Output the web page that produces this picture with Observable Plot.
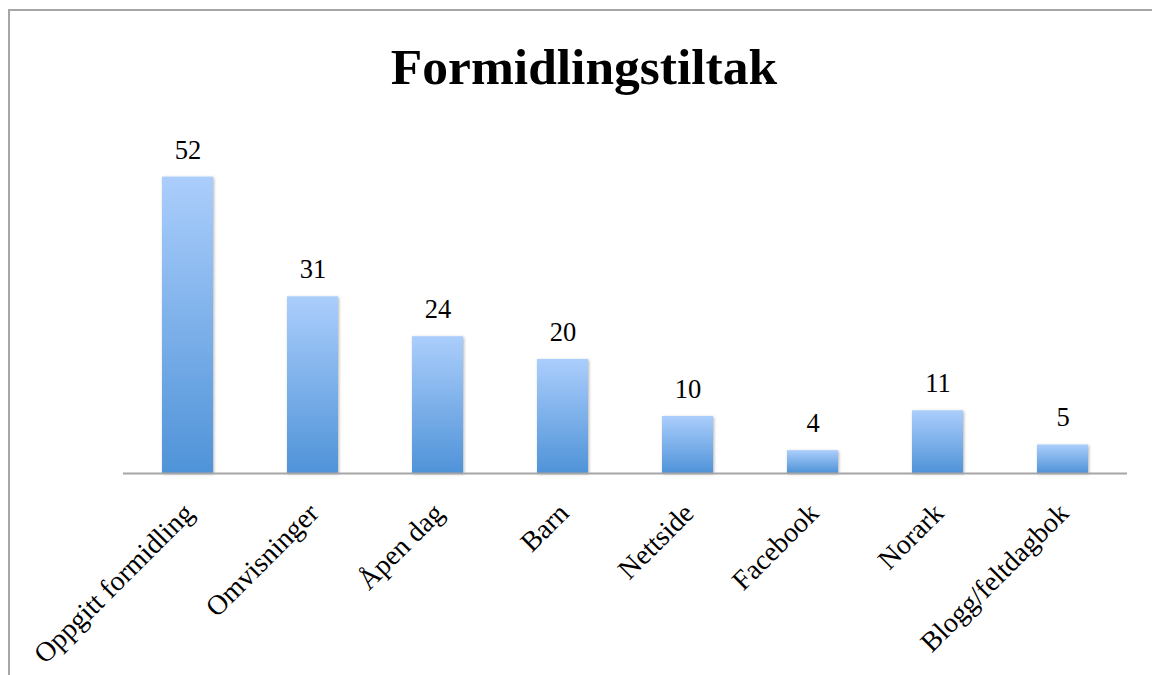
<!DOCTYPE html>
<html>
<head>
<meta charset="utf-8">
<script src="https://cdn.jsdelivr.net/npm/d3@7"></script>
<script src="https://cdn.jsdelivr.net/npm/@observablehq/plot@0.6"></script>
<style>
  html, body { margin: 0; padding: 0; background: #fff; }
  #wrap { position: relative; width: 1152px; height: 675px; overflow: hidden; background: #fff; }
  #frame { position: absolute; left: 8px; top: 9px; width: 1170px; height: 720px;
           border-top: 2px solid #a6a6a6; border-left: 2px solid #a6a6a6; box-sizing: border-box; }
  #title { position: absolute; left: 8px; width: 1152px; top: 41px; text-align: center;
           font-family: "Liberation Serif", serif; font-weight: bold; font-size: 51.5px; line-height: 51px; color: #000; }
  #chart { position: absolute; left: 0; top: 110px; }
</style>
</head>
<body>
<div id="wrap">
  <div id="frame"></div>
  <div id="title">Formidlingstiltak</div>
  <div id="chart"></div>
</div>
<script>
const categories = ["Oppgitt formidling", "Omvisninger", "Åpen dag", "Barn", "Nettside", "Facebook", "Norark", "Blogg/feltdagbok"];
const values = [52, 31, 24, 20, 10, 4, 11, 5];
const data = categories.map((c, i) => ({category: c, value: values[i]}));

const defs = () => {
  const g = d3.create("svg:defs");
  const lg = g.append("linearGradient").attr("id", "barGrad").attr("x1", 0).attr("y1", 0).attr("x2", 0).attr("y2", 1);
  lg.append("stop").attr("offset", "0%").attr("stop-color", "#abcefc");
  lg.append("stop").attr("offset", "100%").attr("stop-color", "#4f93d8");
  const f = g.append("filter").attr("id", "barShadow").attr("x", "-20%").attr("y", "-20%").attr("width", "140%").attr("height", "140%");
  f.append("feDropShadow").attr("dx", 1).attr("dy", 1).attr("stdDeviation", 1.5).attr("flood-color", "#000").attr("flood-opacity", 0.3);
  return g.node();
};

const plot = Plot.plot({
  width: 1152,
  height: 565,
  marginTop: 21,
  marginBottom: 202,
  marginLeft: 123,
  marginRight: 25,
  style: {background: "transparent", fontFamily: "Liberation Serif, serif"},
  x: {domain: categories, paddingInner: 0.592, paddingOuter: 0.312, axis: null},
  y: {domain: [0, 60], axis: null},
  marks: [
    defs,
    Plot.barY(data, {x: "category", y: "value", fill: "url(#barGrad)",
      render: (i, s, v, d, c, next) => { const el = next(i, s, v, d, c); el.setAttribute("filter", "url(#barShadow)"); return el; }}),
    Plot.ruleY([0], {stroke: "#a6a6a6", strokeWidth: 2}),
    Plot.text(data, {x: "category", y: "value", text: d => String(d.value), dy: -27, fontSize: 26.5, fill: "#000"}),
    Plot.text(data, {x: "category", y: () => 0, text: "category", rotate: -45, textAnchor: "end", dx: 1, dy: 35, fontSize: 28, fill: "#000"})
  ]
});
document.getElementById("chart").appendChild(plot);
</script>
</body>
</html>
